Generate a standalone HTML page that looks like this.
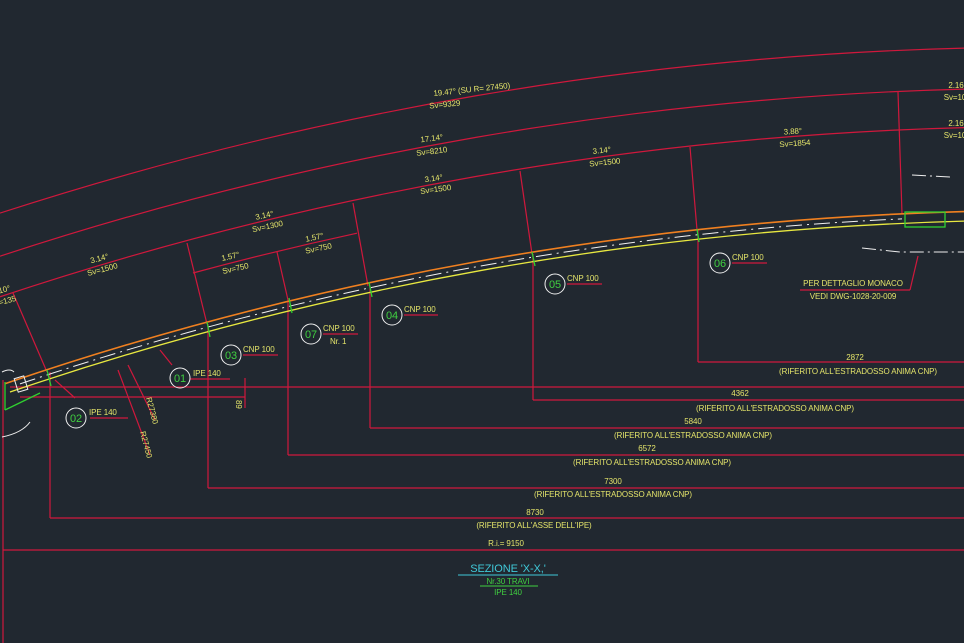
<!DOCTYPE html>
<html><head><meta charset="utf-8"><style>
html,body{margin:0;padding:0;background:#212830;}
svg{display:block}
text{font-family:"Liberation Sans",sans-serif;font-size:8px;fill:#e4e46a;letter-spacing:-0.1px;}
</style></head><body>
<svg width="964" height="643" viewBox="0 0 964 643" xmlns="http://www.w3.org/2000/svg">
<rect width="964" height="643" fill="#212830"/>
<g fill="none" stroke="#d0183c" stroke-width="1.2">
<path d="M0,213.1 A3402,3402 0 0 1 964,48.1"/>
<path d="M0,256.2 A3361,3361 0 0 1 964,89.1"/>
<path d="M0,296.8 A3322.5,3322.5 0 0 1 964,127.6"/>
<path d="M193,273 A3289.6,3289.6 0 0 1 357,233.2"/>
<line x1="13" y1="293" x2="47" y2="372"/>
<line x1="187" y1="243" x2="207" y2="324"/>
<line x1="277" y1="252" x2="288" y2="300"/>
<line x1="353" y1="203" x2="368" y2="286"/>
<line x1="520" y1="171" x2="532" y2="254"/>
<line x1="690" y1="147" x2="697" y2="230"/>
<line x1="898" y1="92" x2="902" y2="214"/>
<line x1="208" y1="324" x2="208" y2="488"/>
<line x1="288" y1="300" x2="288" y2="455"/>
<line x1="370" y1="286" x2="370" y2="428"/>
<line x1="533" y1="254" x2="533" y2="400"/>
<line x1="698" y1="230" x2="698" y2="362"/>
<line x1="50" y1="372" x2="50" y2="518"/>
<line x1="3" y1="380" x2="3" y2="643"/>
<line x1="698" y1="362" x2="964" y2="362"/>
<line x1="533" y1="400" x2="964" y2="400"/>
<line x1="370" y1="428" x2="964" y2="428"/>
<line x1="288" y1="455" x2="964" y2="455"/>
<line x1="208" y1="488" x2="964" y2="488"/>
<line x1="50" y1="518" x2="964" y2="518"/>
<line x1="3" y1="550" x2="964" y2="550"/>
<line x1="10" y1="387" x2="964" y2="387"/>
<line x1="20" y1="397" x2="245" y2="397"/>
<line x1="245" y1="378" x2="245" y2="408"/>
<line x1="118" y1="370" x2="150" y2="455"/>
<line x1="128" y1="365" x2="155" y2="420"/>
<line x1="160" y1="350" x2="172" y2="365"/>
<line x1="55" y1="380" x2="75" y2="398"/>
<line x1="190" y1="379" x2="230" y2="379"/>
<line x1="90" y1="418" x2="128" y2="418"/>
<line x1="243" y1="355" x2="278" y2="355"/>
<line x1="323" y1="334" x2="358" y2="334"/>
<line x1="404" y1="315" x2="438" y2="315"/>
<line x1="567" y1="284" x2="602" y2="284"/>
<line x1="732" y1="263" x2="767" y2="263"/>
<line x1="800" y1="290" x2="910" y2="290"/>
<line x1="910" y1="290" x2="918" y2="256"/>
</g>
<!-- beam -->
<path d="M5,383.7 A3238.5,3238.5 0 0 1 964,211.6" fill="none" stroke="#f08020" stroke-width="1.6"/>
<path d="M10,392 A3229,3229 0 0 1 964,221.1" fill="none" stroke="#e8e840" stroke-width="1.3"/>
<path d="M20,383.9 A3233.5,3233.5 0 0 1 902,218.9" fill="none" stroke="#f0f0f0" stroke-width="1" stroke-dasharray="16,5,2,5"/>
<g fill="none" stroke="#30d030" stroke-width="1.3">
<line x1="5" y1="382" x2="5" y2="410"/>
<line x1="5" y1="410" x2="40" y2="393"/>
<rect x="905" y="212" width="40" height="15"/>
<line x1="47" y1="370" x2="51" y2="386"/>
<line x1="207" y1="322" x2="210" y2="337"/>
<line x1="289" y1="298" x2="292" y2="313"/>
<line x1="369" y1="282" x2="372" y2="297"/>
<line x1="532" y1="252" x2="535" y2="266"/>
<line x1="697" y1="229" x2="699" y2="242"/>
</g>
<g fill="none" stroke="#eeeeee" stroke-width="1">
<path d="M2,372 Q10,368 14,372"/>
<path d="M2,437 Q22,433 30,422"/>
<polyline points="912,175 950,177" stroke-dasharray="14,4,2,4"/>
<polyline points="862,248 900,252 964,252" stroke-dasharray="14,4,2,4"/>
<rect x="16" y="377" width="10" height="14" transform="rotate(-17 21 384)"/>
</g>
<g fill="none" stroke="#eeeeee" stroke-width="1">
<circle cx="180" cy="378" r="10"/><circle cx="76" cy="418" r="10"/>
<circle cx="231" cy="355" r="10"/><circle cx="311" cy="334" r="10"/>
<circle cx="392" cy="315" r="10"/><circle cx="555" cy="284" r="10"/>
<circle cx="720" cy="263" r="10"/>
</g>
<g text-anchor="middle">
<text x="180" y="382" style="fill:#40d040;font-size:11px">01</text>
<text x="76" y="422" style="fill:#40d040;font-size:11px">02</text>
<text x="231" y="359" style="fill:#40d040;font-size:11px">03</text>
<text x="311" y="338" style="fill:#40d040;font-size:11px">07</text>
<text x="392" y="319" style="fill:#40d040;font-size:11px">04</text>
<text x="555" y="288" style="fill:#40d040;font-size:11px">05</text>
<text x="720" y="267" style="fill:#40d040;font-size:11px">06</text>
</g>
<g>
<text x="193" y="376">IPE 140</text>
<text x="89" y="415">IPE 140</text>
<text x="243" y="352">CNP 100</text>
<text x="323" y="331">CNP 100</text>
<text x="330" y="344">Nr. 1</text>
<text x="404" y="312">CNP 100</text>
<text x="567" y="281">CNP 100</text>
<text x="732" y="260">CNP 100</text>
<text transform="translate(146,398) rotate(75)">R27380</text>
<text transform="translate(140,432) rotate(75)">R27450</text>
<text transform="translate(236,400) rotate(90)">89</text>
</g>
<g text-anchor="middle">
<text transform="translate(472,92) rotate(-6)">19.47° (SU R= 27450)</text>
<text transform="translate(445,107) rotate(-6)">Sv=9329</text>
<text transform="translate(432,141) rotate(-7)">17.14°</text>
<text transform="translate(432,154) rotate(-7)">Sv=8210</text>
<text transform="translate(434,181) rotate(-8)">3.14°</text>
<text transform="translate(436,192) rotate(-8)">Sv=1500</text>
<text transform="translate(602,153) rotate(-6)">3.14°</text>
<text transform="translate(605,165) rotate(-6)">Sv=1500</text>
<text transform="translate(793,134) rotate(-4)">3.88°</text>
<text transform="translate(795,146) rotate(-4)">Sv=1854</text>
<text x="956" y="88">2.16</text><text x="955" y="100">Sv=10</text>
<text x="956" y="126">2.16</text><text x="955" y="138">Sv=10</text>
<text transform="translate(265,218) rotate(-12)">3.14°</text>
<text transform="translate(268,229) rotate(-12)">Sv=1300</text>
<text transform="translate(231,259) rotate(-13)">1.57°</text>
<text transform="translate(236,271) rotate(-13)">Sv=750</text>
<text transform="translate(315,240) rotate(-12)">1.57°</text>
<text transform="translate(319,251) rotate(-12)">Sv=750</text>
<text transform="translate(100,261) rotate(-15)">3.14°</text>
<text transform="translate(103,272) rotate(-15)">Sv=1500</text>
<text transform="translate(5,292) rotate(-15)">10°</text>
<text transform="translate(8,303) rotate(-15)">=135</text>
<text x="853" y="286">PER DETTAGLIO MONACO</text>
<text x="853" y="299">VEDI DWG-1028-20-009</text>
<text x="855" y="360">2872</text>
<text x="858" y="374">(RIFERITO ALL'ESTRADOSSO ANIMA CNP)</text>
<text x="740" y="396">4362</text>
<text x="775" y="411">(RIFERITO ALL'ESTRADOSSO ANIMA CNP)</text>
<text x="693" y="424">5840</text>
<text x="693" y="438">(RIFERITO ALL'ESTRADOSSO ANIMA CNP)</text>
<text x="647" y="451">6572</text>
<text x="652" y="465">(RIFERITO ALL'ESTRADOSSO ANIMA CNP)</text>
<text x="613" y="484">7300</text>
<text x="613" y="497">(RIFERITO ALL'ESTRADOSSO ANIMA CNP)</text>
<text x="535" y="515">8730</text>
<text x="534" y="528">(RIFERITO ALL'ASSE DELL'IPE)</text>
<text x="506" y="546">R.i.= 9150</text>
<text x="508" y="572" style="fill:#40c8d8;font-size:11px">SEZIONE 'X-X,'</text>
<text x="508" y="584" style="fill:#40d040;font-size:8px">Nr.30 TRAVI</text>
<text x="508" y="595" style="fill:#40d040;font-size:8px">IPE 140</text>
</g>
<line x1="458" y1="575" x2="558" y2="575" stroke="#40c8d8" stroke-width="1"/>
<line x1="480" y1="586" x2="538" y2="586" stroke="#40d040" stroke-width="1"/>
</svg>
</body></html>
